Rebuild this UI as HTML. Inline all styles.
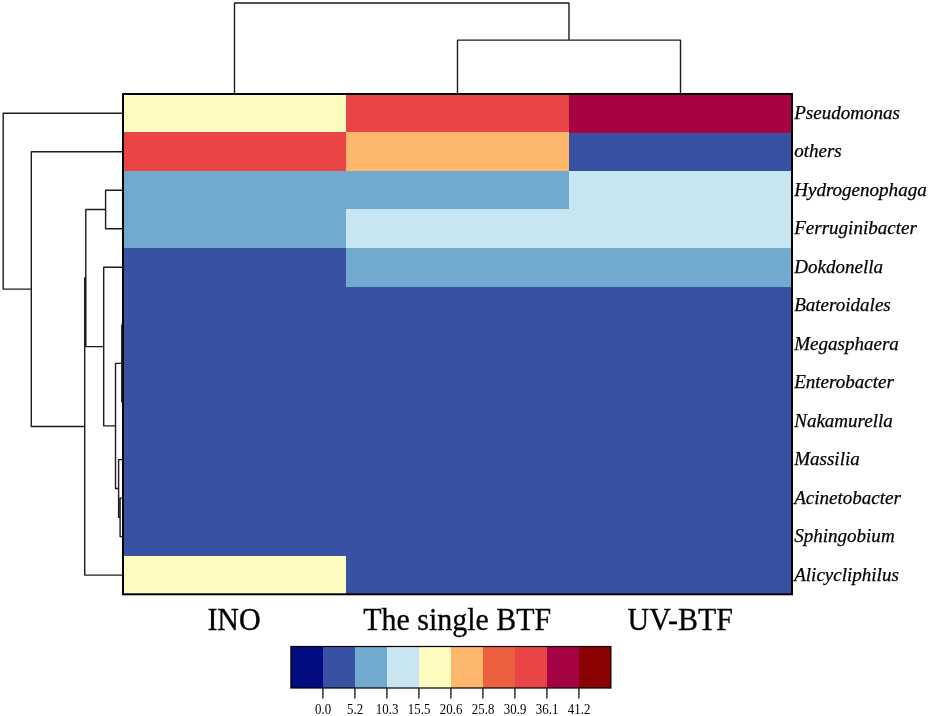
<!DOCTYPE html>
<html lang="en"><head><meta charset="utf-8"><title>Heatmap</title>
<style>html,body{margin:0;padding:0;background:#fff}svg{display:block}</style></head>
<body>
<svg width="930" height="716" viewBox="0 0 930 716">
<rect width="930" height="716" fill="#fff"/>
<g shape-rendering="crispEdges">
<rect x="123.0" y="94.0" width="669.0" height="500.29999999999995" fill="#3951a3"/>
<rect x="123.00" y="94.00" width="223.30" height="38.78" fill="#fefbc0"/>
<rect x="346.00" y="94.00" width="223.30" height="38.78" fill="#ea4546"/>
<rect x="569.00" y="94.00" width="223.30" height="38.78" fill="#a50343"/>
<rect x="123.00" y="132.48" width="223.30" height="38.78" fill="#ea4546"/>
<rect x="346.00" y="132.48" width="223.30" height="38.78" fill="#fdb76c"/>
<rect x="123.00" y="170.97" width="223.30" height="38.78" fill="#72a9cf"/>
<rect x="346.00" y="170.97" width="223.30" height="38.78" fill="#72a9cf"/>
<rect x="569.00" y="170.97" width="223.30" height="38.78" fill="#c8e6f1"/>
<rect x="123.00" y="209.45" width="223.30" height="38.78" fill="#72a9cf"/>
<rect x="346.00" y="209.45" width="223.30" height="38.78" fill="#c8e6f1"/>
<rect x="569.00" y="209.45" width="223.30" height="38.78" fill="#c8e6f1"/>
<rect x="346.00" y="247.94" width="223.30" height="38.78" fill="#72a9cf"/>
<rect x="569.00" y="247.94" width="223.30" height="38.78" fill="#72a9cf"/>
<rect x="123.00" y="555.82" width="223.30" height="38.78" fill="#fefbc0"/>
</g>
<rect x="123.0" y="94.0" width="669.0" height="500.29999999999995" fill="none" stroke="#000" stroke-width="2"/>
<path d="M457.5 94.0 V40.1 H680.5 V94.0 M234.5 94.0 V3 H569.0 V40.1 M123.0 190.2 H105.6 V228.7 H123.0 M123.0 324.9 H121.8 V401.9 H123.0 M123.0 498.1 H120.1 V536.6 H123.0 M123.0 459.6 H118.6 V517.3 H120.1 M121.8 363.4 H115.5 V488.5 H118.6 M123.0 267.2 H103.7 V425.9 H115.5 M105.6 209.5 H85.8 V346.6 H103.7 M85.8 278.0 H84.7 V575.1 H123.0 M123.0 151.7 H31.3 V426.5 H84.7 M123.0 113.2 H3.2 V289.1 H31.3" fill="none" stroke="#1c1c1c" stroke-width="1.4" stroke-linejoin="round"/>
<g font-family="'Liberation Serif',serif" font-style="italic" font-size="19.05" fill="#000" stroke="#000" stroke-width="0.25">
<text x="794.2" y="118.6">Pseudomonas</text>
<text x="794.2" y="157.1">others</text>
<text x="794.2" y="195.6" letter-spacing="0">Hydrogenophaga</text>
<text x="794.2" y="234.1">Ferruginibacter</text>
<text x="794.2" y="272.6">Dokdonella</text>
<text x="794.2" y="311.1">Bateroidales</text>
<text x="794.2" y="349.5">Megasphaera</text>
<text x="794.2" y="388.0">Enterobacter</text>
<text x="794.2" y="426.5">Nakamurella</text>
<text x="794.2" y="465.0">Massilia</text>
<text x="794.2" y="503.5">Acinetobacter</text>
<text x="794.2" y="542.0">Sphingobium</text>
<text x="794.2" y="580.5">Alicycliphilus</text>
</g>
<g font-family="'Liberation Serif',serif" font-size="30.6" fill="#000" stroke="#000" stroke-width="0.3" text-anchor="middle">
<text transform="translate(234.0 630) scale(0.979 1)">INO</text>
<text transform="translate(457.3 630) scale(0.979 1)">The single BTF</text>
<text transform="translate(680.2 630) scale(0.979 1)">UV-BTF</text>
</g>
<g shape-rendering="crispEdges">
<rect x="290.90" y="646.5" width="32.30" height="41.5" fill="#020c80"/>
<rect x="322.90" y="646.5" width="32.30" height="41.5" fill="#3951a3"/>
<rect x="354.90" y="646.5" width="32.30" height="41.5" fill="#72a9cf"/>
<rect x="386.90" y="646.5" width="32.30" height="41.5" fill="#c8e6f1"/>
<rect x="418.90" y="646.5" width="32.30" height="41.5" fill="#fefbc0"/>
<rect x="450.90" y="646.5" width="32.30" height="41.5" fill="#fdb76c"/>
<rect x="482.90" y="646.5" width="32.30" height="41.5" fill="#ec5f3f"/>
<rect x="514.90" y="646.5" width="32.30" height="41.5" fill="#ea4546"/>
<rect x="546.90" y="646.5" width="32.30" height="41.5" fill="#a50343"/>
<rect x="578.90" y="646.5" width="32.30" height="41.5" fill="#8a0202"/>
</g>
<rect x="290.9" y="646.5" width="320.0" height="41.5" fill="none" stroke="#000" stroke-width="1.2"/>
<g font-family="'Liberation Serif',serif" font-size="14.6" fill="#000" text-anchor="middle">
<text transform="translate(323.10 713.6) scale(0.88 1)">0.0</text>
<text transform="translate(355.10 713.6) scale(0.88 1)">5.2</text>
<text transform="translate(387.10 713.6) scale(0.88 1)">10.3</text>
<text transform="translate(419.10 713.6) scale(0.88 1)">15.5</text>
<text transform="translate(451.10 713.6) scale(0.88 1)">20.6</text>
<text transform="translate(483.10 713.6) scale(0.88 1)">25.8</text>
<text transform="translate(515.10 713.6) scale(0.88 1)">30.9</text>
<text transform="translate(547.10 713.6) scale(0.88 1)">36.1</text>
<text transform="translate(579.10 713.6) scale(0.88 1)">41.2</text>
</g>
<path d="M322.90 688.0 V698.6 M354.90 688.0 V698.6 M386.90 688.0 V698.6 M418.90 688.0 V698.6 M450.90 688.0 V698.6 M482.90 688.0 V698.6 M514.90 688.0 V698.6 M546.90 688.0 V698.6 M578.90 688.0 V698.6" fill="none" stroke="#222" stroke-width="1.4"/>
</svg>
</body></html>
